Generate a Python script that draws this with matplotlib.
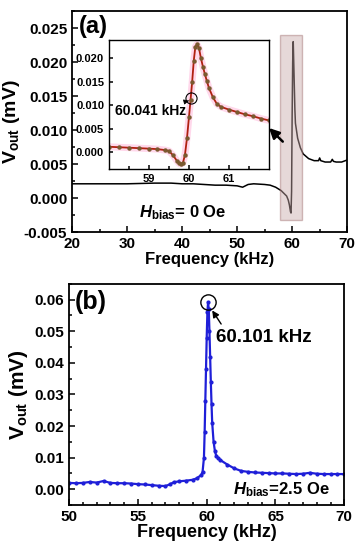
import matplotlib
matplotlib.use("Agg")
import matplotlib.pyplot as plt
import matplotlib.patches as patches
from matplotlib.ticker import MultipleLocator, FixedLocator, FormatStrFormatter

# panel (a), main trace, H_bias = 0 Oe
freq_a = [20, 25, 30, 35, 38, 40, 42, 44, 46, 48, 50, 51, 51.5, 52, 53, 55, 56,
          57, 58, 58.5, 59, 59.3, 59.5, 59.7, 59.8, 59.9, 60.0, 60.1, 60.2,
          60.35, 60.5, 60.6, 61, 61.5, 62, 63, 64, 64.8, 65, 65.2, 66, 67,
          67.3, 67.5, 68, 69, 70]
vout_a = [0.0021, 0.0021, 0.0021, 0.0022, 0.0022, 0.0021, 0.0021, 0.0020,
          0.0019, 0.0019, 0.0018, 0.0016, 0.0018, 0.0020, 0.0021, 0.0020,
          0.0019, 0.0016, 0.0011, 0.0007, 0.0003, -0.0003, -0.0010, -0.0020,
          -0.0022, 0.0010, 0.0120, 0.0200, 0.0230, 0.0180, 0.0130, 0.0110,
          0.0088, 0.0074, 0.0065, 0.0058, 0.0055, 0.0055, 0.0059, 0.0055,
          0.0053, 0.0053, 0.0057, 0.0054, 0.0053, 0.0053, 0.0056]

# panel (a), inset zoom 58-62 kHz
freq_in = [58.0, 58.25, 58.5, 58.75, 59.0, 59.2, 59.4, 59.5, 59.6, 59.7, 59.75,
           59.8, 59.85, 59.9, 59.95, 60.0, 60.04, 60.08, 60.12, 60.16, 60.2,
           60.25, 60.3, 60.35, 60.4, 60.45, 60.5, 60.6, 60.7, 60.8, 61.0,
           61.2, 61.4, 61.6, 61.8, 62.0]
vout_in = [0.0012, 0.0011, 0.0010, 0.0009, 0.0008, 0.0007, 0.0005, 0.0003,
           -0.0006, -0.0018, -0.0023, -0.0025, -0.0022, -0.0005, 0.0030,
           0.0075, 0.0112, 0.0150, 0.0195, 0.0225, 0.0230, 0.0222, 0.0200,
           0.0182, 0.0166, 0.0151, 0.0137, 0.0117, 0.0103, 0.0097, 0.0091,
           0.0086, 0.0081, 0.0077, 0.0072, 0.0068]
inset_ticks = [59, 60, 61]

# panel (b), H_bias = 2.5 Oe
freq_b = [50, 50.5, 51, 51.5, 52, 52.5, 53, 53.5, 54, 54.5, 55, 55.5, 56, 56.5,
          57, 57.3, 57.6, 58, 58.5, 59, 59.3, 59.6, 59.7, 59.8, 59.85, 59.9,
          59.95, 60.0, 60.05, 60.1, 60.15, 60.2, 60.25, 60.3, 60.35, 60.4,
          60.5, 60.6, 60.7, 60.8, 61, 61.5, 62, 62.5, 63, 63.5, 64, 64.5, 65,
          65.5, 66, 66.5, 67, 67.5, 68, 68.5, 69, 69.5, 70]
vout_b = [0.0020, 0.0019, 0.0020, 0.0023, 0.0021, 0.0026, 0.0020, 0.0019,
          0.0019, 0.0018, 0.0016, 0.0015, 0.0013, 0.0011, 0.0010, 0.0015,
          0.0022, 0.0025, 0.0027, 0.0030, 0.0035, 0.0045, 0.0055, 0.0100,
          0.0180, 0.0280, 0.0380, 0.0480, 0.0560, 0.0592, 0.0570, 0.0500,
          0.0420, 0.0340, 0.0270, 0.0210, 0.0150, 0.0120, 0.0105, 0.0100,
          0.0092, 0.0078, 0.0066, 0.0058, 0.0055, 0.0053, 0.0052, 0.0051,
          0.0050, 0.0050, 0.0049, 0.0048, 0.0049, 0.0052, 0.0049, 0.0048,
          0.0048, 0.0048, 0.0048]

plt.rcParams['font.family'] = ['Liberation Sans', 'DejaVu Sans']
plt.rcParams['font.weight'] = 'bold'
plt.rcParams['mathtext.fontset'] = 'custom'
plt.rcParams['mathtext.rm'] = 'Liberation Sans:bold'
plt.rcParams['mathtext.bf'] = 'Liberation Sans:bold'
plt.rcParams['mathtext.it'] = 'Liberation Sans:italic:bold'
plt.rcParams['axes.linewidth'] = 1.3


def style_axes(ax, size=11):
    ax.tick_params(which='both', direction='in', width=1.1, labelsize=size)
    ax.tick_params(which='major', length=4)
    ax.tick_params(which='minor', length=2)
    for lab in ax.get_xticklabels() + ax.get_yticklabels():
        lab.set_fontweight('bold')


fig = plt.figure(figsize=(3.62, 5.5), dpi=100)

# ---- panel (a)
ax1 = fig.add_axes([0.199, 0.578, 0.760, 0.402])
ax1.plot(freq_a, vout_a, color='black', lw=1.1, zorder=2)
rect = patches.Rectangle((57.8, -0.0032), 4.0, 0.0272, facecolor='#c9a9a9',
                         edgecolor='#a07070', alpha=0.45, lw=1.0, zorder=3)
ax1.add_patch(rect)
ax1.set_xlim(20, 70)
ax1.set_ylim(-0.005, 0.0275)
ax1.xaxis.set_major_locator(MultipleLocator(10))
ax1.xaxis.set_minor_locator(MultipleLocator(5))
ax1.yaxis.set_major_locator(MultipleLocator(0.005))
ax1.yaxis.set_minor_locator(MultipleLocator(0.0025))
ax1.yaxis.set_major_formatter(FormatStrFormatter('%.3f'))
style_axes(ax1)
ax1.set_xlabel('Frequency (kHz)', fontsize=12, fontweight='bold', labelpad=1)
ax1.set_ylabel(r'V$_{\mathbf{out}}$ (mV)', fontsize=14, fontweight='bold', labelpad=1)
ax1.text(0.025, 0.93, '(a)', transform=ax1.transAxes, fontsize=17,
         fontweight='bold', ha='left', va='center')
ax1.text(0.244, 0.09, r'$\mathit{H}_{\mathbf{bias}}$= 0 Oe', transform=ax1.transAxes,
         fontsize=12, fontweight='bold', ha='left', va='center')
ax1.annotate('', xy=(55.8, 0.0103), xytext=(58.3, 0.0083),
             arrowprops=dict(arrowstyle='-|>,head_length=0.6,head_width=0.3',
                             color='black', lw=1.8, shrinkA=0, shrinkB=0),
             zorder=5)

# ---- inset
ax_in = fig.add_axes([0.301, 0.693, 0.442, 0.235])
ax_in.plot(freq_in, vout_in, color='#ff80c0', lw=5, alpha=0.3, zorder=1)
ax_in.plot(freq_in, vout_in, color='#b02010', lw=1.3, marker='o', ms=2.2,
           mfc='#7a5a30', mec='#7a5a30', zorder=2)
ax_in.plot([60.06], [0.0115], marker='o', ms=8, mfc='none', mec='black',
           mew=0.8, zorder=3)
ax_in.annotate('60.041 kHz', xy=(60.0, 0.0110), xytext=(58.15, 0.0089),
               fontsize=10, fontweight='bold', va='center',
               arrowprops=dict(arrowstyle='-|>,head_length=0.3,head_width=0.15',
                               color='black', lw=0.6, shrinkA=0, shrinkB=0))
ax_in.set_xlim(58, 62)
ax_in.set_ylim(-0.0035, 0.024)
ax_in.xaxis.set_major_locator(FixedLocator(inset_ticks))
ax_in.xaxis.set_minor_locator(FixedLocator([58.5, 59.5, 60.5, 61.5]))
ax_in.yaxis.set_major_locator(MultipleLocator(0.005))
ax_in.yaxis.set_major_formatter(FormatStrFormatter('%.3f'))
for sp in ax_in.spines.values():
    sp.set_linewidth(1.0)
style_axes(ax_in, size=8)
ax_in.tick_params(which='major', length=3)

# ---- panel (b)
ax2 = fig.add_axes([0.191, 0.0818, 0.760, 0.402])
ax2.plot(freq_b, vout_b, color='#1f1fd8', lw=1.6, marker='o', ms=2,
         mfc='#1f1fd8', mec='#1f1fd8')
ax2.plot([60.1], [0.0592], marker='o', ms=11, mfc='none', mec='black', mew=1.0)
ax2.annotate('', xy=(60.4, 0.0566), xytext=(61.05, 0.0523),
             arrowprops=dict(arrowstyle='-|>,head_length=0.4,head_width=0.2',
                             color='black', lw=1.0, shrinkA=0, shrinkB=0))
ax2.text(60.69, 0.048, '60.101 kHz', fontsize=13.5, fontweight='bold',
         ha='left', va='center')
ax2.set_xlim(50, 70)
ax2.set_ylim(-0.005, 0.065)
ax2.xaxis.set_major_locator(MultipleLocator(5))
ax2.xaxis.set_minor_locator(MultipleLocator(1))
ax2.yaxis.set_major_locator(MultipleLocator(0.01))
ax2.yaxis.set_minor_locator(MultipleLocator(0.005))
ax2.yaxis.set_major_formatter(FormatStrFormatter('%.2f'))
style_axes(ax2)
ax2.set_xlabel('Frequency (kHz)', fontsize=13, fontweight='bold', labelpad=0)
ax2.set_ylabel(r'V$_{\mathbf{out}}$ (mV)', fontsize=15, fontweight='bold', labelpad=3)
ax2.text(0.022, 0.92, '(b)', transform=ax2.transAxes, fontsize=18,
         fontweight='bold', ha='left', va='center')
ax2.text(0.596, 0.068, r'$\mathit{H}_{\mathbf{bias}}$=2.5 Oe', transform=ax2.transAxes,
         fontsize=12, fontweight='bold', ha='left', va='center')

fig.savefig('out.png', dpi=100)
